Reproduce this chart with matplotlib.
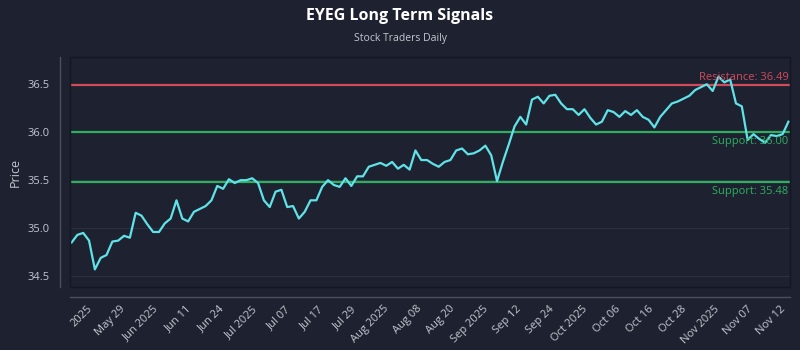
import matplotlib
matplotlib.use("Agg")
import matplotlib.pyplot as plt
import numpy as np
from matplotlib.patches import Rectangle

plt.rcParams['font.family'] = ['Open Sans', 'DejaVu Sans']

prices = [34.85, 34.93, 34.95, 34.87, 34.57, 34.69, 34.72, 34.86, 34.87, 34.92,
          34.90, 35.16, 35.13, 35.04, 34.96, 34.96, 35.05, 35.10, 35.29, 35.10,
          35.07, 35.17, 35.20, 35.23, 35.29, 35.44, 35.41, 35.51, 35.47, 35.50,
          35.50, 35.52, 35.47, 35.29, 35.22, 35.38, 35.40, 35.22, 35.23, 35.10,
          35.17, 35.29, 35.29, 35.43, 35.50, 35.45, 35.43, 35.52, 35.44, 35.54,
          35.54, 35.64, 35.66, 35.68, 35.65, 35.69, 35.62,
          35.66, 35.61, 35.81, 35.71, 35.71, 35.67, 35.64, 35.69, 35.71, 35.81,
          35.83, 35.77, 35.78, 35.81, 35.86, 35.76, 35.49, 35.69, 35.87, 36.06,
          36.16, 36.08, 36.34, 36.37, 36.30, 36.38, 36.39, 36.30, 36.24, 36.24,
          36.18, 36.24, 36.15, 36.08, 36.11, 36.23, 36.21, 36.16, 36.22, 36.18,
          36.23, 36.16, 36.13, 36.05, 36.16, 36.23, 36.30, 36.32, 36.35, 36.38,
          36.44, 36.47, 36.50, 36.43, 36.58, 36.52, 36.55, 36.30, 36.27, 35.92,
          35.98, 35.93, 35.89, 35.97, 35.96, 35.98, 36.11]

tick_labels = ["2025", "May 29", "Jun 2025", "Jun 11", "Jun 24", "Jul 2025", "Jul 07",
               "Jul 17", "Jul 29", "Aug 2025", "Aug 08", "Aug 20", "Sep 2025", "Sep 12",
               "Sep 24", "Oct 2025", "Oct 06", "Oct 16", "Oct 28", "Nov 2025", "Nov 07",
               "Nov 12"]

resistance = [36.49]
supports = [36.00, 35.48]
yticks = [34.5, 35.0, 35.5, 36.0, 36.5]

BG = '#1e2230'
TXT = '#c3c7cf'
CYAN = '#5fe3e8'
RED = '#d14a5c'
GREEN = '#2fae5f'

fig = plt.figure(figsize=(8, 3.5), dpi=100)
fig.patch.set_facecolor(BG)
ax = fig.add_axes([0.088, 0.181, 0.899, 0.655])
ax.set_facecolor(BG)

for side in ['top', 'right']:
    ax.spines[side].set_visible(False)
for side in ['left', 'bottom']:
    ax.spines[side].set_position(('outward', 7.2))
    ax.spines[side].set_color('#4a5062')
    ax.spines[side].set_linewidth(1.0)

x = np.arange(len(prices))
ax.set_xlim(-0.2, len(prices) - 1 + 0.2)
ax.set_ylim(34.39, 36.78)

ax.tick_params(axis='both', colors=TXT, labelsize=8, length=0)
ax.tick_params(axis='x', pad=5)
ax.tick_params(axis='y', pad=8)

ax.set_yticks(yticks)
ax.set_yticklabels([f"{v:.1f}" for v in yticks])
ax.grid(axis='y', color='#2b3142', linewidth=0.8)
ax.grid(axis='x', visible=False)
ax.set_axisbelow(True)

for r in resistance:
    ax.axhline(r, color=RED, linewidth=1.6, zorder=2)
    ax.text(len(prices) - 1, r + 0.02, f"Resistance: {r:.2f}", color=RED,
            fontsize=8, ha='right', va='bottom', zorder=4)
for s in supports:
    ax.axhline(s, color=GREEN, linewidth=1.6, zorder=2)
    ax.text(len(prices) - 1, s - 0.04, f"Support: {s:.2f}", color=GREEN,
            fontsize=8, ha='right', va='top', zorder=4)

ax.plot(x, prices, color=CYAN, linewidth=1.6, zorder=3)

tick_pos = np.linspace(4.0, 122.8, len(tick_labels))
ax.set_xticks(tick_pos)
ax.set_xticklabels(tick_labels, rotation=45, ha='right')

frame = Rectangle((0, 0), 1, 1, transform=ax.transAxes, fill=False,
                  edgecolor='#131722', linewidth=1.0, zorder=5, clip_on=False)
ax.add_patch(frame)

ax.set_ylabel("Price", color=TXT, fontsize=9, labelpad=4)

fig.text(0.5, 0.955, "EYEG Long Term Signals", ha='center', va='center',
         color='white', fontsize=11.5, fontweight='bold')
fig.text(0.5, 0.89, "Stock Traders Daily", ha='center', va='center',
         color=TXT, fontsize=7.5)

fig.savefig("out.png", dpi=100, facecolor=BG)
